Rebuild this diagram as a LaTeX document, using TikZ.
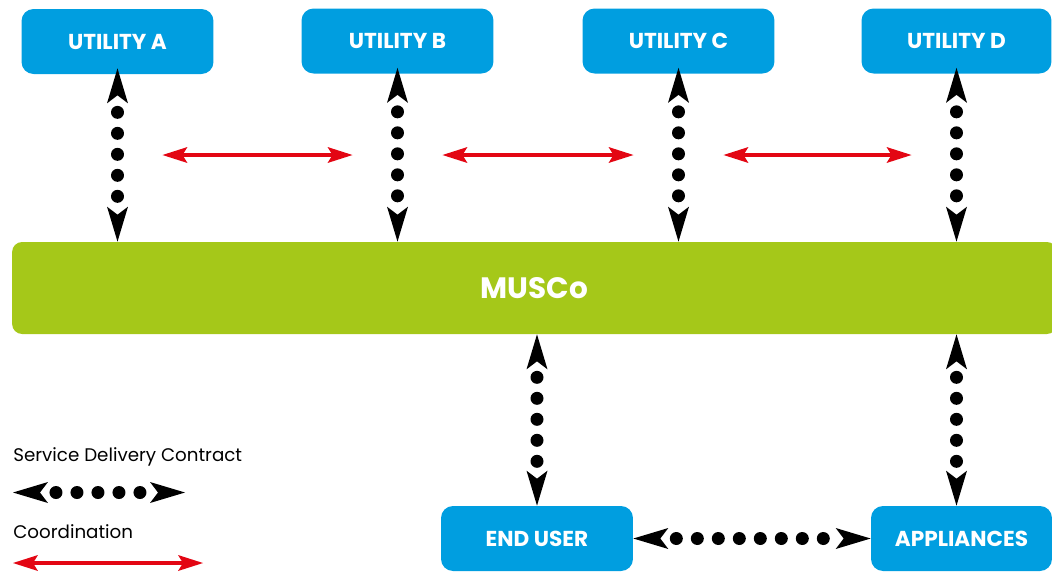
\documentclass[tikz,border=0pt]{standalone}
\usepackage{fontspec}
\setmainfont{Poppins}
\usetikzlibrary{arrows.meta}
\definecolor{muscoblue}{RGB}{0,158,224}
\definecolor{muscogreen}{RGB}{165,200,25}
\definecolor{coordred}{RGB}{227,6,19}

\tikzset{
  actor/.style={fill=muscoblue, rounded corners=0.24cm, minimum width=3.84cm, minimum height=1.3cm, inner sep=0pt, text=white, font=\bfseries\fontsize{12.3}{14}\selectfont},
  platform/.style={fill=muscogreen, rounded corners=0.2cm, minimum width=20.9cm, minimum height=1.84cm, inner sep=0pt, text=white, font=\bfseries\fontsize{16.8}{19}\selectfont},
  legendtext/.style={anchor=base west, inner sep=0pt, font=\fontsize{10.4}{12}\selectfont},
  sdctip/.tip={Stealth[length=0.7cm,width=0.42cm,inset=0.16cm,line width=0pt 0,color=black]},
  contract/.style={draw=white, line width=0.2pt, sdctip-sdctip,
    postaction={draw=black, -, line width=0.26cm, line cap=round, dash pattern=on 0pt off 0.42cm, shorten <=#1, shorten >=0.86cm}},
  contract/.default=0.86cm,
  coordtip/.tip={Stealth[length=0.5cm,width=0.32cm,inset=0.1cm,line width=0pt 0]},
  coordarrow/.style={coordred, line width=0.08cm, coordtip-coordtip}
}

\begin{document}
\begin{tikzpicture}[x=0.02cm, y=-0.02cm]
\useasboundingbox (0,0) rectangle (1052,576);

\node[actor] (ua) at (117.5,41.5) {UTILITY A};
\node[actor] (ub) at (397.5,41) {UTILITY B};
\node[actor] (uc) at (678.5,41) {UTILITY C};
\node[actor, minimum width=3.8cm] (ud) at (956.5,41) {UTILITY D};
\node[platform] (musco) at (534.5,288) {MUSCo};
\node[actor] (eu) at (537,538.5) {END USER};
\node[actor, minimum width=3.62cm] (app) at (961.5,538.5) {APPLIANCES};

\draw[contract=0.76cm, shorten <=-0.12cm] (ua.south) -- (ua.south |- musco.north);
\draw[contract=0.76cm, shorten <=-0.12cm] (ub.south) -- (ub.south |- musco.north);
\draw[contract=0.76cm, shorten <=-0.12cm] (uc.south) -- (uc.south |- musco.north);
\draw[contract=0.76cm, shorten <=-0.12cm] (ud.south) -- (ud.south |- musco.north);
\draw[contract] (musco.south -| eu.north) -- (eu.north);
\draw[contract] (musco.south -| ud.south) -- (app.north -| ud.south);
\draw[contract] (eu.east) -- (app.west);

\coordinate (coordrow) at (0,155);
\draw[coordarrow, shorten <=0.9cm, shorten >=0.9cm] (ua.south |- coordrow) -- (ub.south |- coordrow);
\draw[coordarrow, shorten <=0.9cm, shorten >=0.9cm] (ub.south |- coordrow) -- (uc.south |- coordrow);
\draw[coordarrow, shorten <=0.9cm, shorten >=0.9cm] (uc.south |- coordrow) -- (ud.south |- coordrow);

\node[legendtext] (sdclabel) at (13,461) {Service Delivery Contract};
\coordinate (sdcleft) at (13,492.5);
\coordinate (sdcright) at (185,492.5);
\draw[contract] (sdcleft) -- (sdcright);
\node[legendtext] (coordlabel) at (13,538) {Coordination};
\coordinate (coordleft) at (13,563);
\coordinate (coordright) at (203,563);
\draw[coordarrow] (coordleft) -- (coordright);
\end{tikzpicture}
\end{document}
